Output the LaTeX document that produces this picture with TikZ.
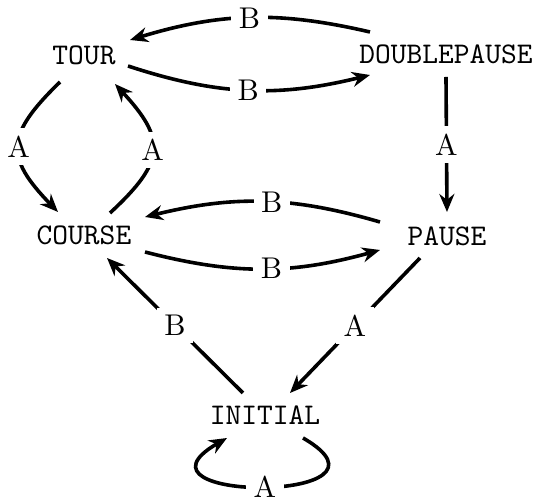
\documentclass[tikz,border=0pt]{standalone}
\usepackage{tikz}
\usetikzlibrary{arrows.meta,calc}
\tikzset{
  statenode/.style={font=\ttfamily,inner sep=2pt},
  trans/.style={-{Stealth[length=6pt,width=5pt]},line width=1.2pt},
  lbl/.style={fill=white,inner sep=2.5pt}
}
\begin{document}
\begin{tikzpicture}[x=0.3333pt,y=0.3333pt]
\useasboundingbox (0,0) rectangle (544,502);
\node[statenode] (tour) at (84,447) {TOUR};
\node[statenode] (doublepause) at (446,448) {DOUBLEPAUSE};
\node[statenode] (course) at (84,267) {COURSE};
\node[statenode] (pause) at (447,266) {PAUSE};
\node[statenode] (initial) at (265,87) {INITIAL};
% top row
\draw[trans] ($(doublepause)+(-76,22)$) to[bend right=15] node[lbl]{B} ($(tour)+(46,15)$);
\draw[trans] ($(tour)+(44,-11)$) to[bend right=16] node[lbl]{B} ($(doublepause)+(-76,-21)$);
\draw[trans] ($(tour)+(-24,-27)$) to[bend right=45,looseness=1.5] node[lbl]{A} ($(course)+(-26,23)$);
\draw[trans] ($(course)+(26,22)$) to[bend right=45,looseness=1.5] node[lbl]{A} ($(tour)+(31,-29)$);
\draw[trans] ($(doublepause)+(0,-23)$) -- node[lbl]{A} ($(pause)+(0,24)$);
% middle row
\draw[trans] ($(pause)+(-67,14)$) to[bend right=15] node[lbl,pos=0.46]{B} ($(course)+(61,18)$);
\draw[trans] ($(course)+(61,-17)$) to[bend right=15] node[lbl,pos=0.54]{B} ($(pause)+(-67,-14)$);
% initial state
\draw[trans] ($(initial)+(-22,22)$) -- node[lbl]{B} ($(course)+(23,-23)$);
\draw[trans] ($(pause)+(-27,-22)$) -- node[lbl]{A} ($(initial)+(25,22)$);
\draw[trans] ($(initial)+(38,-23)$) to[out=-30,in=-150,looseness=4.4] node[lbl]{A} ($(initial)+(-38,-23)$);
\end{tikzpicture}
\end{document}
